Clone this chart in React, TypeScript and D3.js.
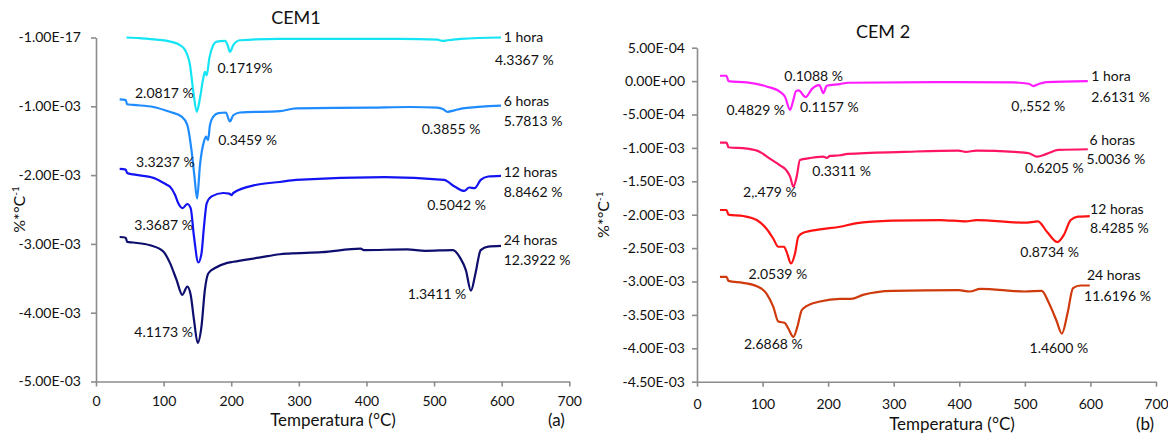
import React, { useEffect, useRef } from "react";
import * as d3 from "d3";

// DTG curves, values in units of 1e-3 %*°C^-1, pairs are [temperature °C, value]
const UNIT = 1e-3;

const xTicks = [0, 100, 200, 300, 400, 500, 600, 700];

const cem1YTicks = [0, -1, -2, -3, -4, -5];
const cem1YLabels = ["-1.00E-17", "-1.00E-03", "-2.00E-03", "-3.00E-03", "-4.00E-03", "-5.00E-03"];
const cem2YTicks = [0.5, 0, -0.5, -1, -1.5, -2, -2.5, -3, -3.5, -4, -4.5];
const cem2YLabels = [
  "5.00E-04", "0.00E+00", "-5.00E-04", "-1.00E-03", "-1.50E-03", "-2.00E-03",
  "-2.50E-03", "-3.00E-03", "-3.50E-03", "-4.00E-03", "-4.50E-03",
];

const cem1Hora1 = [
  [45, 0.0], [65, -0.01], [90, -0.03], [110, -0.06], [124, -0.11], [131.6, -0.18], [139, -0.4],
  [144, -0.79], [149, -1.08], [153.8, -0.88], [158.7, -0.59], [161, -0.5], [163.7, -0.55],
  [167.6, -0.3], [173.5, -0.11], [178.5, -0.06], [190.8, -0.05], [195, -0.12], [198, -0.21],
  [203, -0.11], [213, -0.04], [272, -0.02], [350, -0.02], [450, -0.02], [505, -0.03],
  [512, -0.05], [520, -0.04], [540, -0.02], [599, 0.0],
];
const cem1Horas6 = [
  [35, -0.9], [44, -0.91], [46, -0.97], [55, -0.98], [85, -1.01], [109, -1.08], [126.7, -1.15],
  [135, -1.27], [141.5, -1.66], [145.4, -2.0], [149.5, -2.34], [153.8, -1.85], [159.7, -1.51],
  [162.7, -1.44], [165.7, -1.49], [168.6, -1.27], [173.5, -1.15], [181, -1.1], [192, -1.09],
  [198, -1.22], [203, -1.13], [213, -1.09], [272, -1.07], [296, -1.03], [405, -1.02],
  [465, -1.01], [505, -1.02], [513, -1.04], [520, -1.08], [530, -1.06], [542, -1.03], [599, -0.99],
];
const cem1Horas12 = [
  [35, -1.91], [44, -1.92], [46, -1.97], [55, -1.99], [85, -2.04], [104.5, -2.14], [109.5, -2.17],
  [117, -2.29], [121.7, -2.41], [128, -2.48], [135, -2.42], [140, -2.48], [145, -2.9],
  [151.3, -3.27], [156, -3.14], [159.7, -2.75], [163.7, -2.41], [171, -2.31], [188, -2.26],
  [197, -2.27], [200.7, -2.29], [203, -2.26], [237.7, -2.14], [272, -2.1], [296, -2.07],
  [427, -2.03], [514.6, -2.07], [531, -2.17], [544.6, -2.23], [552, -2.18], [560, -2.19],
  [569, -2.07], [580, -2.02], [599, -2.01],
];
const cem1Horas24 = [
  [35, -2.9], [44, -2.91], [46, -2.97], [55, -2.98], [80, -3.02], [99.6, -3.11], [109.5, -3.28],
  [119, -3.52], [127.7, -3.74], [135, -3.62], [140, -3.74], [145, -4.11], [150.4, -4.44],
  [156, -4.2], [161, -3.67], [166, -3.43], [176, -3.35], [193, -3.28], [203, -3.26], [241, -3.2],
  [272, -3.15], [285, -3.14], [334, -3.12], [391.5, -3.07], [396, -3.09], [460, -3.08],
  [487, -3.1], [528, -3.09], [539, -3.21], [547, -3.38], [554.5, -3.68], [561, -3.44],
  [569, -3.09], [580, -3.04], [599, -3.03],
];

const cem2Hora1 = [
  [35, 0.08], [45, 0.08], [48, 0.0], [76, -0.02], [106, -0.08], [126.6, -0.16], [134, -0.23],
  [142, -0.43], [147, -0.28], [151, -0.15], [155, -0.14], [165.8, -0.24], [175, -0.12],
  [180, -0.08], [186.6, -0.06], [192.7, -0.18], [197.8, -0.07], [218, -0.045], [230, -0.025],
  [399, -0.015], [483.6, -0.02], [506, -0.04], [513, -0.075], [522, -0.04], [533, -0.015],
  [596, 0.0],
];
const cem2Horas6 = [
  [35, -0.92], [45, -0.92], [48, -0.99], [76, -1.01], [96, -1.06], [111, -1.16], [126.6, -1.26],
  [135.8, -1.33], [142, -1.43], [147, -1.58], [152, -1.43], [157, -1.18], [167, -1.16],
  [192.7, -1.13], [197.8, -1.15], [203, -1.12], [218, -1.11], [230, -1.09], [314.7, -1.06],
  [399, -1.04], [410, -1.06], [426, -1.04], [483.6, -1.06], [506, -1.08], [518.6, -1.13],
  [533, -1.09], [550.8, -1.03], [596, -1.02],
];
const cem2Horas12 = [
  [35, -1.93], [45, -1.93], [48, -2.0], [70.6, -2.02], [91, -2.08], [106, -2.21], [116.4, -2.36],
  [124, -2.48], [132.7, -2.48], [136.8, -2.56], [143.4, -2.73], [149.5, -2.58], [154.5, -2.33],
  [162, -2.27], [187.6, -2.22], [218, -2.18], [241.6, -2.13], [298, -2.09], [371, -2.08],
  [410, -2.1], [426, -2.08], [500, -2.12], [520, -2.1], [534, -2.26], [549.7, -2.41],
  [559, -2.31], [570, -2.08], [581, -2.03], [599, -2.02],
];
const cem2Horas24 = [
  [35, -2.93], [45, -2.93], [48, -2.99], [70, -3.02], [91, -3.07], [106, -3.18], [116.4, -3.38],
  [124, -3.6], [134, -3.62], [139, -3.7], [147, -3.83], [153, -3.68], [159.7, -3.43],
  [167, -3.37], [187.6, -3.3], [218, -3.26], [235, -3.26], [253, -3.2], [298, -3.14],
  [399, -3.13], [416, -3.15], [432, -3.11], [500, -3.15], [525.6, -3.14], [537, -3.33],
  [548, -3.58], [556.4, -3.78], [565, -3.48], [573.5, -3.1], [585, -3.06], [599, -3.06],
];

const cem1Colors = ["#14e4f4", "#1e8cff", "#1414f2", "#0e0e6e"];
const cem2Colors = ["#ff1cff", "#ff1466", "#ff1212", "#cf3a0c"];

// labels anchored in data units: [text, °C, value]
const cem1Notes = [
  ["1 hora", 603, 0.01], ["4.3367 %", 590, -0.33], ["0.1719%", 179.6, -0.45],
  ["2.0817 %", 57.7, -0.81], ["6 horas", 603, -0.92], ["5.7813 %", 603, -1.22],
  ["0.3855 %", 481.7, -1.33], ["0.3459 %", 180.9, -1.49], ["3.3237 %", 59.2, -1.81],
  ["12 horas", 603, -1.95], ["8.8462 %", 603, -2.25], ["0.5042 %", 489.9, -2.44],
  ["3.3687 %", 56.6, -2.73], ["24 horas", 603, -2.95], ["12.3922 %", 603, -3.24],
  ["1.3411 %", 460.9, -3.73], ["4.1173 %", 56.6, -4.28],
];
const cem2Notes = [
  ["0.1088 %", 133.2, 0.075], ["1 hora", 601.4, 0.075], ["2.6131 %", 601.4, -0.244],
  ["0.4829 %", 44.8, -0.434], ["0.1157 %", 157.1, -0.394], ["0,.552 %", 479.4, -0.374],
  ["6 horas", 598.7, -0.883], ["5.0036 %", 594.1, -1.172], ["0.3311 %", 175.9, -1.343],
  ["0.6205 %", 500.3, -1.307], ["2,.479 %", 70.2, -1.657], ["12 horas", 599.5, -1.921],
  ["8.4285 %", 599.5, -2.205], ["0.8734 %", 493, -2.555], ["2.0539 %", 78.6, -2.889],
  ["24 horas", 594.7, -2.904], ["11.6196 %", 590.3, -3.214], ["2.6868 %", 71.7, -3.937],
  ["1.4600 %", 507.2, -3.992],
];

const FONT = "Lato, 'Open Sans', sans-serif";

const Panel = props => {
  const xRef = useRef(null);
  const yRef = useRef(null);
  const x = d3.scaleLinear().domain([0, 700]).range(props.xRange);
  const y = d3.scaleLinear().domain(props.yDomain.map(d => d * UNIT)).range(props.yRange);

  useEffect(() => {
    const gx = d3.select(xRef.current);
    gx.call(
      d3.axisBottom(x).tickValues(xTicks).tickSize(5).tickSizeOuter(0).tickPadding(props.xPad)
    );
    const gy = d3.select(yRef.current);
    gy.call(
      d3
        .axisLeft(y)
        .tickValues(props.yTicks.map(d => d * UNIT))
        .tickFormat((d, i) => props.yLabels[i])
        .tickSize(5)
        .tickSizeOuter(0)
        .tickPadding(props.yPad)
    );
    [gx, gy].forEach(g => {
      g.attr("font-family", FONT).attr("font-size", 14).attr("color", "#8c8c8c");
      g.select(".domain").attr("stroke-width", 1.6);
      g.selectAll(".tick line").attr("stroke-width", 1.6);
      g.selectAll(".tick text").attr("fill", "#111");
    });
  }, []);

  const line = d3
    .line()
    .x(d => x(d[0]))
    .y(d => y(d[1] * UNIT))
    .curve(d3.curveMonotoneX);

  const xMid = (props.xRange[0] + props.xRange[1]) / 2;
  const yMid = (props.yRange[0] + props.yRange[1]) / 2;

  return (
    <g fontFamily={FONT}>
      <g ref={xRef} transform={`translate(0 ${props.yRange[0]})`} />
      <g ref={yRef} transform={`translate(${props.xRange[0]} 0)`} />
      {props.series.map((s, i) => (
        <path key={i} d={line(s)} fill="none" stroke={props.colors[i]} strokeWidth={2.2} strokeLinejoin="round" />
      ))}
      {props.notes.map((n, i) => (
        <text key={i} x={x(n[1])} y={y(n[2] * UNIT)} dy="0.35em" fontSize={14} fill="#111">
          {n[0]}
        </text>
      ))}
      <text x={props.titlePos[0]} y={props.titlePos[1]} dy="0.35em" textAnchor="middle" fontSize={18} fill="#111">
        {props.title}
      </text>
      <text x={props.xTitleX} y={props.xTitleY} dy="0.35em" textAnchor="middle" fontSize={17} fill="#111">
        Temperatura (°C)
      </text>
      <text x={props.tagX} y={props.xTitleY} dy="0.35em" fontSize={17} fill="#111">
        {props.tag}
      </text>
      <text
        transform={`translate(${props.yTitleX} ${yMid}) rotate(-90)`}
        textAnchor="middle"
        fontSize={16}
        fill="#111"
      >
        %*°C
        <tspan fontSize={10} dy="-6">-1</tspan>
      </text>
    </g>
  );
};

const App = () => {
  return (
    <svg
      width={1168}
      height={434}
      style={{ position: "absolute", left: 0, top: 0, background: "#fff" }}
    >
      <Panel
        title="CEM1"
        titlePos={[296, 18]}
        xRange={[96, 569.3]}
        yRange={[381.5, 37.5]}
        yDomain={[-5, 0]}
        yTicks={cem1YTicks}
        yLabels={cem1YLabels}
        xPad={10}
        yPad={10}
        series={[cem1Hora1, cem1Horas6, cem1Horas12, cem1Horas24]}
        colors={cem1Colors}
        notes={cem1Notes}
        xTitleX={333}
        xTitleY={420}
        tag="(a)"
        tagX={548}
        yTitleX={25}
      />
      <Panel
        title="CEM 2"
        titlePos={[883, 32]}
        xRange={[697, 1156]}
        yRange={[381.7, 47.7]}
        yDomain={[-4.5, 0.5]}
        yTicks={cem2YTicks}
        yLabels={cem2YLabels}
        xPad={12}
        yPad={7}
        series={[cem2Hora1, cem2Horas6, cem2Horas12, cem2Horas24]}
        colors={cem2Colors}
        notes={cem2Notes}
        xTitleX={952}
        xTitleY={424}
        tag="(b)"
        tagX={1136}
        yTitleX={609}
      />
    </svg>
  );
};

export default App;
